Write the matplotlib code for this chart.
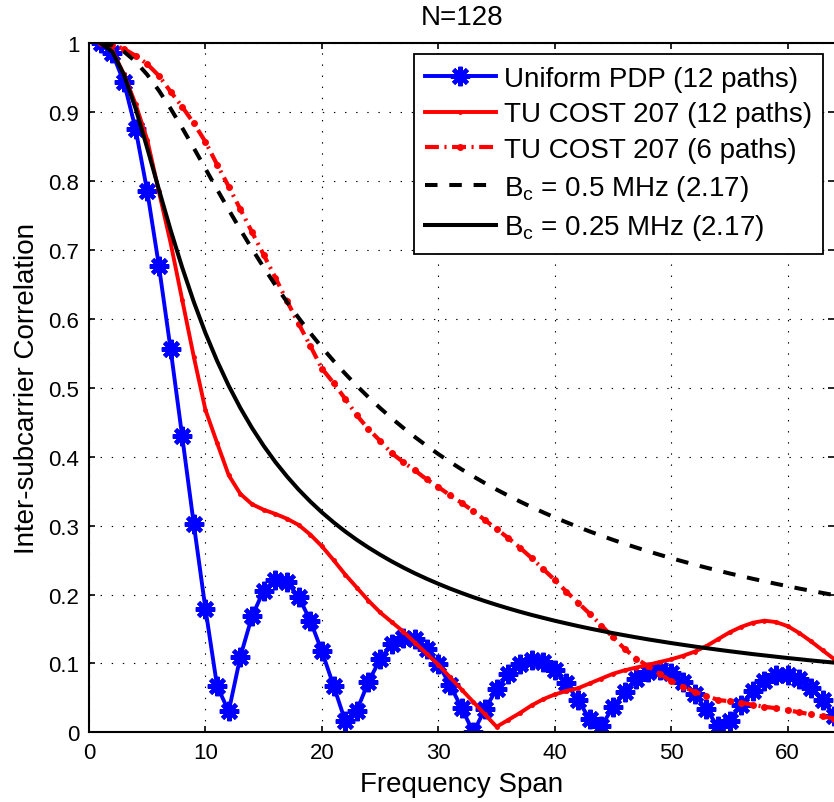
import matplotlib
matplotlib.use("Agg")
import matplotlib.pyplot as plt

plt.rcParams['font.family'] = ['Liberation Sans', 'DejaVu Sans']
plt.rcParams['mathtext.default'] = 'regular'
plt.rcParams['lines.scale_dashes'] = False

# frequency span (subcarrier index)
span = list(range(1, 65))

uniform_pdp = [1.0, 0.986, 0.9435, 0.8757, 0.7855, 0.6775, 0.557, 0.4299,
               0.302, 0.1793, 0.0669, 0.0306, 0.1099, 0.1685, 0.2057, 0.2216,
               0.2178, 0.1968, 0.1621, 0.1176, 0.0677, 0.0166, 0.0316, 0.0734,
               0.1061, 0.1276, 0.1372, 0.1348, 0.1214, 0.0986, 0.0689, 0.0351,
               0.0, 0.0334, 0.0625, 0.0851, 0.0996, 0.1052, 0.1018, 0.0899,
               0.0709, 0.0465, 0.019, 0.0094, 0.0362, 0.0592, 0.0767, 0.0872,
               0.0902, 0.0855, 0.0736, 0.0557, 0.0333, 0.0085, 0.0168, 0.0403,
               0.0601, 0.0746, 0.0826, 0.0836, 0.0774, 0.0646, 0.0464, 0.0242]

tu12 = [1.0, 0.99, 0.955, 0.912, 0.86, 0.785, 0.711, 0.628,
        0.545, 0.468, 0.42, 0.373, 0.346, 0.331, 0.323, 0.317,
        0.31, 0.301, 0.287, 0.27, 0.25, 0.229, 0.21, 0.191,
        0.174, 0.16, 0.146, 0.13, 0.114, 0.098, 0.08, 0.062,
        0.044, 0.026, 0.008, 0.018, 0.028, 0.039, 0.048, 0.055,
        0.06, 0.064, 0.071, 0.078, 0.085, 0.09, 0.094, 0.098,
        0.102, 0.106, 0.111, 0.117, 0.125, 0.135, 0.145, 0.153,
        0.159, 0.162, 0.16, 0.154, 0.144, 0.132, 0.119, 0.106]

tu6 = [1.0, 0.998, 0.992, 0.982, 0.97, 0.953, 0.93, 0.908,
       0.884, 0.857, 0.824, 0.792, 0.759, 0.726, 0.693, 0.66,
       0.626, 0.593, 0.561, 0.528, 0.507, 0.484, 0.46, 0.44,
       0.423, 0.405, 0.392, 0.38, 0.367, 0.356, 0.344, 0.333,
       0.321, 0.308, 0.295, 0.282, 0.268, 0.253, 0.237, 0.221,
       0.204, 0.188, 0.172, 0.155, 0.138, 0.121, 0.107, 0.096,
       0.085, 0.074, 0.066, 0.059, 0.053, 0.047, 0.045, 0.043,
       0.04, 0.037, 0.035, 0.032, 0.029, 0.026, 0.023, 0.02]

bc_05 = [1.0, 0.997, 0.988, 0.9736, 0.9545, 0.9315, 0.9055, 0.8774,
         0.848, 0.818, 0.788, 0.7584, 0.7295, 0.7016, 0.6748, 0.6491,
         0.6247, 0.6015, 0.5795, 0.5587, 0.5391, 0.5205, 0.5029, 0.4863,
         0.4706, 0.4557, 0.4417, 0.4284, 0.4158, 0.4038, 0.3924, 0.3816,
         0.3714, 0.3616, 0.3523, 0.3435, 0.335, 0.3269, 0.3192, 0.3118,
         0.3048, 0.298, 0.2915, 0.2853, 0.2793, 0.2736, 0.2681, 0.2628,
         0.2577, 0.2527, 0.248, 0.2434, 0.239, 0.2348, 0.2306, 0.2267,
         0.2228, 0.2191, 0.2155, 0.212, 0.2086, 0.2054, 0.2022, 0.1991]

bc_025 = [1.0, 0.988, 0.9545, 0.9055, 0.848, 0.788, 0.7295, 0.6748,
          0.6247, 0.5795, 0.5391, 0.5029, 0.4706, 0.4417, 0.4158, 0.3924,
          0.3714, 0.3523, 0.335, 0.3192, 0.3048, 0.2915, 0.2793, 0.2681,
          0.2577, 0.248, 0.239, 0.2306, 0.2228, 0.2155, 0.2086, 0.2022,
          0.1961, 0.1904, 0.185, 0.1799, 0.175, 0.1704, 0.1661, 0.1619,
          0.158, 0.1542, 0.1506, 0.1472, 0.1439, 0.1408, 0.1378, 0.1349,
          0.1322, 0.1295, 0.127, 0.1245, 0.1222, 0.1199, 0.1177, 0.1156,
          0.1135, 0.1116, 0.1097, 0.1078, 0.1061, 0.1043, 0.1027, 0.1011]

fig = plt.figure(figsize=(8.34, 8.03), dpi=100)
ax = fig.add_axes([0.1067, 0.0868, 0.8937, 0.858])

ax.plot(span, uniform_pdp, color='blue', lw=2.8, marker=(8, 2, 0), ms=14, mew=3,
        label='Uniform PDP (12 paths)')
ax.plot(span, tu12, color='red', lw=2.8, marker='o', ms=3.5, mew=0,
        label='TU COST 207 (12 paths)')
ax.plot(span, tu6, color='red', lw=3, marker='o', ms=5, mew=0,
        dashes=(10, 4, 1.5, 4), label='TU COST 207 (6 paths)')
ax.plot(span, bc_05, color='black', lw=2.9, dashes=(9, 8.5),
        label=r'B$_{c}$ = 0.5 MHz (2.17)')
ax.plot(span, bc_025, color='black', lw=2.9,
        label=r'B$_{c}$ = 0.25 MHz (2.17)')

ax.set_xlim(0, 64)
ax.set_ylim(0, 1)
ax.set_xticks([0, 10, 20, 30, 40, 50, 60])
ax.set_yticks([0, 0.1, 0.2, 0.3, 0.4, 0.5, 0.6, 0.7, 0.8, 0.9, 1])
ax.set_yticklabels(['0', '0.1', '0.2', '0.3', '0.4', '0.5', '0.6', '0.7', '0.8', '0.9', '1'])
ax.grid(True, color='black', lw=0.8, dashes=(1, 7))
ax.tick_params(direction='in', length=4, width=1.2, labelsize=16, pad=7,
               top=True, right=True)
for s in ax.spines.values():
    s.set_linewidth(1.5)
ax.spines['right'].set_visible(False)

ax.set_title('N=128', fontsize=20, pad=14)
ax.set_xlabel('Frequency Span', fontsize=20, labelpad=6)
ax.set_ylabel('Inter-subcarrier Correlation', fontsize=20, labelpad=6)

leg = ax.legend(loc='upper right', fontsize=20, handlelength=2.55, handletextpad=0.3,
                labelspacing=0.35, borderpad=0.4, borderaxespad=0.4,
                fancybox=False, framealpha=1, edgecolor='black')
leg.get_frame().set_linewidth(1.3)

fig.savefig('out.png', dpi=100)
